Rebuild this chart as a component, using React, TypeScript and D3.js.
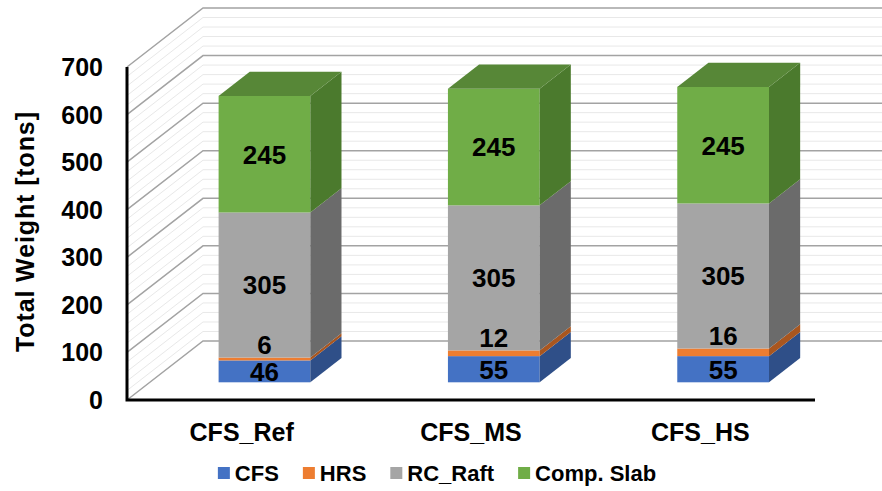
import { useRef, useEffect } from "react";
import * as d3 from "d3";

const categories = ["CFS_Ref", "CFS_MS", "CFS_HS"];
const seriesNames = ["CFS", "HRS", "RC_Raft", "Comp. Slab"];
const cfs = [46, 55, 55];
const hrs = [6, 12, 16];
const rcRaft = [305, 305, 305];
const compSlab = [245, 245, 245];
const yTicks = [0, 100, 200, 300, 400, 500, 600, 700];

const frontColors = ["#4472C4", "#ED7D31", "#A5A5A5", "#70AD47"];
const sideColors = ["#2F4F88", "#A9561F", "#6B6B6B", "#4B7A2D"];
const topColors = ["#3A62A8", "#C96A29", "#8C8C8C", "#578737"];

const App = () => {
  const svgRef = useRef<SVGSVGElement>(null);

  useEffect(() => {
    const w = 882;
    const h = 491;
    const svg = d3.select(svgRef.current).attr("width", w).attr("height", h);
    svg.selectAll("*").remove();
    const font = "'Liberation Sans', Arial, sans-serif";

    // front plane of the plot
    const left = 127;
    const right = 815;
    const bottom = 400;
    const top = 67;
    // depth vector of the 3d box
    const depth = { x: 76, y: -59 };
    const barFront = 0.3;
    const barBack = 0.71;

    const x = d3
      .scaleBand<string>()
      .domain(categories)
      .range([left, right])
      .paddingInner(0.6)
      .paddingOuter(0.3);
    const y = d3.scaleLinear().domain([0, 700]).range([bottom, top]);

    // walls: minor then major gridlines
    const grid = svg.append("g");
    const minor = d3.range(0, 701, 20).filter((v) => v % 100 !== 0);
    const drawGrid = (vals: number[], color: string, sw: number) => {
      vals.forEach((v) => {
        const yf = y(v);
        const yb = yf + depth.y;
        grid
          .append("path")
          .attr(
            "d",
            `M${left},${yf}L${left + depth.x},${yb}L${right + depth.x + 10},${yb}`
          )
          .attr("fill", "none")
          .attr("stroke", color)
          .attr("stroke-width", sw);
      });
    };
    drawGrid(minor, "#e8e8e8", 1);
    drawGrid(yTicks, "#a3a3a3", 1.5);

    // axes lines
    svg
      .append("path")
      .attr("d", `M${left},${top}L${left},${bottom}L${right},${bottom}`)
      .attr("fill", "none")
      .attr("stroke", "#000")
      .attr("stroke-width", 3);

    // y tick labels
    svg
      .append("g")
      .selectAll("text")
      .data(yTicks)
      .join("text")
      .attr("x", left - 24)
      .attr("y", (d) => y(d))
      .attr("dy", "0.36em")
      .attr("text-anchor", "end")
      .style("font-family", font)
      .style("font-weight", "bold")
      .style("font-size", "25px")
      .text((d) => d);

    // y title
    svg
      .append("text")
      .attr("transform", `translate(34, 232) rotate(-90)`)
      .attr("text-anchor", "middle")
      .style("font-family", font)
      .style("font-weight", "bold")
      .style("font-size", "25px")
      .attr("textLength", 240)
      .text("Total Weight [tons]");

    // category labels
    svg
      .append("g")
      .selectAll("text")
      .data(categories)
      .join("text")
      .attr("x", (d) => (x(d) as number) + x.bandwidth() / 2)
      .attr("y", 441)
      .attr("text-anchor", "middle")
      .style("font-family", font)
      .style("font-weight", "bold")
      .style("font-size", "25px")
      .text((d) => d);

    // stacked 3d bars
    const table = categories.map((c, i) => ({
      cat: c,
      CFS: cfs[i],
      HRS: hrs[i],
      RC_Raft: rcRaft[i],
      "Comp. Slab": compSlab[i],
    }));
    const stack = d3.stack<any>().keys(seriesNames)(table);

    const fx = depth.x * barFront;
    const fy = depth.y * barFront;
    const bx = depth.x * (barBack - barFront);
    const by = depth.y * (barBack - barFront);

    const bars = svg.append("g");
    categories.forEach((c, ci) => {
      const x0 = (x(c) as number) + fx;
      const x1 = x0 + x.bandwidth();
      stack.forEach((layer, si) => {
        const [v0, v1] = layer[ci];
        const yb = y(v0) + fy;
        const yt = y(v1) + fy;
        // front
        bars
          .append("rect")
          .attr("x", x0)
          .attr("y", yt)
          .attr("width", x1 - x0)
          .attr("height", yb - yt)
          .attr("fill", frontColors[si]);
        // side
        bars
          .append("path")
          .attr(
            "d",
            `M${x1},${yb}L${x1 + bx},${yb + by}L${x1 + bx},${yt + by}L${x1},${yt}Z`
          )
          .attr("fill", sideColors[si]);
        // top of the last segment
        if (si === stack.length - 1) {
          bars
            .append("path")
            .attr(
              "d",
              `M${x0},${yt}L${x0 + bx},${yt + by}L${x1 + bx},${yt + by}L${x1},${yt}Z`
            )
            .attr("fill", topColors[si]);
        }
      });
    });

    // data labels
    const labels = svg.append("g");
    categories.forEach((c, ci) => {
      const cx = (x(c) as number) + fx + x.bandwidth() / 2;
      stack.forEach((layer, si) => {
        const [v0, v1] = layer[ci];
        let ly = (y(v0) + y(v1)) / 2 + fy;
        if (seriesNames[si] === "HRS") ly = y(v1) + fy - 13;
        labels
          .append("text")
          .attr("x", cx)
          .attr("y", ly)
          .attr("dy", "0.36em")
          .attr("text-anchor", "middle")
          .style("font-family", font)
          .style("font-weight", "bold")
          .style("font-size", "26px")
          .text(v1 - v0);
      });
    });

    // legend
    const legend = svg.append("g");
    let lx = 0;
    seriesNames.forEach((name, i) => {
      const g = legend.append("g").attr("transform", `translate(${lx},0)`);
      g.append("rect")
        .attr("x", 0)
        .attr("y", -6)
        .attr("width", 12)
        .attr("height", 12)
        .attr("fill", frontColors[i]);
      const t = g
        .append("text")
        .attr("x", 17)
        .attr("y", 0)
        .attr("dy", "0.36em")
        .style("font-family", font)
        .style("font-weight", "bold")
        .style("font-size", "22px")
        .text(name);
      const tw = (t.node() as SVGTextElement).getComputedTextLength();
      lx += 17 + tw + 24;
    });
    const total = lx - 24;
    legend.attr("transform", `translate(${437 - total / 2},473)`);
  }, []);

  return (
    <div>
      <svg
        ref={svgRef}
        style={{ position: "absolute", left: 0, top: 0, background: "#fff" }}
      ></svg>
    </div>
  );
};

export default App;
